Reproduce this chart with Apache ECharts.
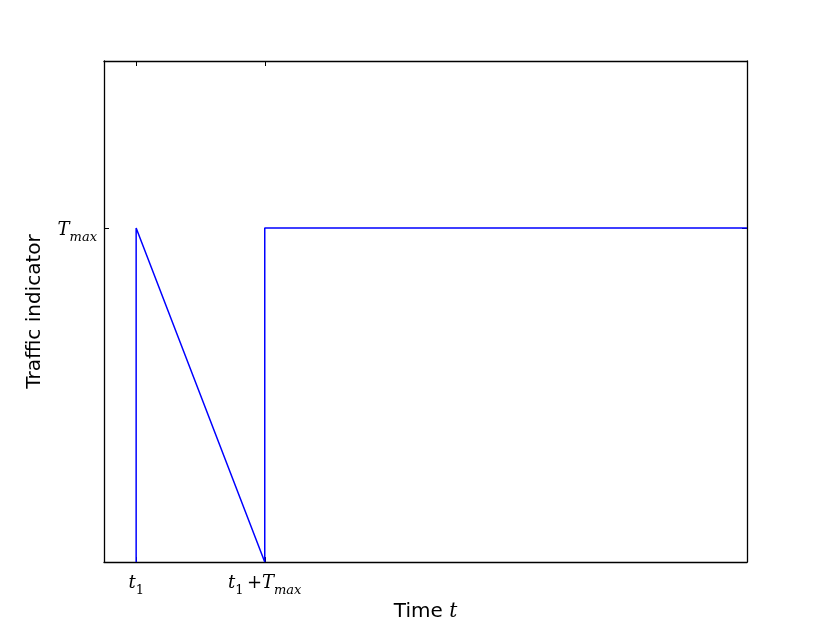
<!DOCTYPE html>
<html>
<head>
<meta charset="utf-8">
<script src="https://cdn.jsdelivr.net/npm/echarts@6/dist/echarts.min.js"></script>
<style>
  html, body { margin: 0; padding: 0; background: #fff; }
  #chart { width: 830px; height: 627px; }
</style>
</head>
<body>
<div id="chart"></div>
<script>
// t1 = 5, Tmax = 20, x range 0..100, y range 0..1.5*Tmax
const signalPoints = [[5, 0], [5, 20], [25, 0], [25, 20], [100, 20]]
const xTickValues = [5, 25]
const xTickLabels = ['{i|t}{u|1}', '{i|t}{u|1} {n|+}{i|T}{s|max}']
const yTickValues = [20]
const yTickLabels = ['{i|T}{s|max}']

const mathRich = {
  i: { fontFamily: 'DejaVu Serif', fontStyle: 'italic', fontSize: 18, color: '#000', verticalAlign: 'bottom', lineHeight: 22 },
  n: { fontFamily: 'DejaVu Serif', fontSize: 18, color: '#000', verticalAlign: 'bottom', lineHeight: 22 },
  s: { fontFamily: 'DejaVu Serif', fontStyle: 'italic', fontSize: 13, color: '#000', verticalAlign: 'bottom', lineHeight: 16, padding: [0, 0, -5, 0] },
  u: { fontFamily: 'DejaVu Serif', fontSize: 13, color: '#000', verticalAlign: 'bottom', lineHeight: 16, padding: [0, 0, -5, 0] }
}

const chart = echarts.init(document.getElementById('chart'), null, { renderer: 'canvas' })

const frameLine = { show: true, onZero: false, lineStyle: { color: '#000', width: 1.3 } }

chart.setOption({
  animation: false,
  backgroundColor: '#fff',
  grid: { left: 104, right: 83, top: 61, bottom: 64 },
  xAxis: [
    {
      type: 'value', min: 0, max: 100,
      name: 'Time {i|t}', nameLocation: 'middle', nameGap: 33,
      nameTextStyle: {
        fontFamily: 'DejaVu Sans', fontSize: 20, color: '#000',
        rich: { i: { fontFamily: 'DejaVu Serif', fontStyle: 'italic', fontSize: 20, color: '#000' } }
      },
      axisLine: frameLine,
      splitLine: { show: false },
      axisTick: { show: true, inside: true, length: 5, customValues: xTickValues, lineStyle: { color: '#000', width: 1 } },
      axisLabel: {
        customValues: xTickValues, margin: 8,
        formatter: (v) => xTickLabels[xTickValues.indexOf(v)],
        rich: mathRich
      }
    },
    {
      type: 'value', min: 0, max: 100, position: 'top',
      axisLine: frameLine,
      splitLine: { show: false },
      axisTick: { show: true, inside: true, length: 5, customValues: xTickValues, lineStyle: { color: '#000', width: 1 } },
      axisLabel: { show: false }
    }
  ],
  yAxis: [
    {
      type: 'value', min: 0, max: 30,
      name: 'Traffic indicator', nameLocation: 'middle', nameGap: 59, nameRotate: 90,
      nameTextStyle: { fontFamily: 'DejaVu Sans', fontSize: 20, color: '#000' },
      axisLine: frameLine,
      splitLine: { show: false },
      axisTick: { show: true, inside: true, length: 5, customValues: yTickValues, lineStyle: { color: '#000', width: 1 } },
      axisLabel: {
        customValues: yTickValues, margin: 7,
        formatter: (v) => yTickLabels[yTickValues.indexOf(v)],
        rich: mathRich
      }
    },
    {
      type: 'value', min: 0, max: 30, position: 'right',
      axisLine: frameLine,
      splitLine: { show: false },
      axisTick: { show: true, inside: true, length: 5, customValues: yTickValues, lineStyle: { color: '#000', width: 1 } },
      axisLabel: { show: false }
    }
  ],
  series: [
    {
      type: 'line',
      data: signalPoints,
      xAxisIndex: 0, yAxisIndex: 0,
      showSymbol: false,
      lineStyle: { color: '#0000ff', width: 1.5 },
      z: 1
    }
  ]
})
</script>
</body>
</html>
